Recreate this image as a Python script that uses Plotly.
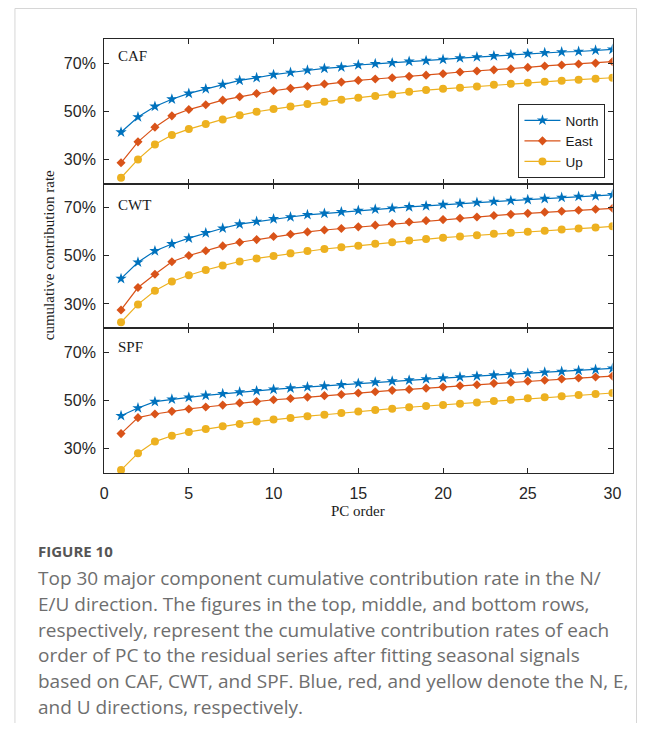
import plotly.graph_objects as go

OFF = 8  # page body margin of the browser
W, H = 654 - 2 * OFF, 733 - 2 * OFF - 2

pc_order = list(range(1, 31))
panels = ["CAF", "CWT", "SPF"]
series_names = ["North", "East", "Up"]

caf_north = [41.3, 47.6, 52.0, 55.0, 57.4, 59.3, 61.1, 62.8, 63.9, 65.2, 66.1, 67.0, 67.8, 68.3, 69.2,
             69.7, 70.1, 70.7, 71.0, 71.5, 72.1, 72.5, 73.0, 73.5, 73.9, 74.3, 74.6, 74.8, 75.3, 75.7]
caf_east = [28.6, 37.3, 43.4, 48.1, 50.7, 52.7, 54.6, 56.0, 57.4, 58.5, 59.5, 60.4, 61.3, 62.1, 62.8,
            63.4, 63.9, 64.5, 65.0, 65.6, 66.3, 66.7, 67.2, 67.6, 68.2, 68.8, 69.2, 69.6, 70.0, 70.6]
caf_up = [22.4, 30.0, 36.2, 40.1, 42.6, 44.7, 46.6, 48.3, 49.8, 50.9, 52.0, 53.0, 53.9, 54.8, 55.6,
          56.3, 57.0, 58.1, 58.8, 59.3, 59.8, 60.3, 61.0, 61.4, 61.8, 62.2, 62.7, 63.1, 63.5, 63.9]

cwt_north = [40.5, 47.3, 52.0, 54.9, 57.3, 59.5, 61.4, 63.1, 64.2, 65.3, 66.1, 67.0, 67.6, 68.2, 68.8,
             69.3, 69.7, 70.3, 70.7, 71.2, 71.7, 72.1, 72.5, 72.9, 73.3, 73.7, 74.2, 74.6, 74.8, 75.3]
cwt_east = [27.5, 36.8, 42.3, 47.5, 50.1, 52.1, 54.1, 55.6, 56.7, 58.0, 58.9, 59.9, 60.7, 61.3, 62.0,
            62.7, 63.4, 64.0, 64.6, 65.0, 65.6, 66.1, 66.7, 67.2, 67.6, 68.1, 68.5, 68.9, 69.3, 69.7]
cwt_up = [22.4, 29.8, 35.5, 39.3, 41.9, 44.1, 45.9, 47.6, 48.9, 49.9, 51.0, 52.0, 52.8, 53.5, 54.2,
          55.0, 55.6, 56.3, 57.0, 57.5, 58.0, 58.5, 59.1, 59.5, 60.0, 60.4, 60.9, 61.3, 61.7, 62.2]

spf_north = [43.7, 46.9, 49.5, 50.5, 51.3, 52.1, 52.8, 53.5, 54.0, 54.6, 55.1, 55.6, 56.0, 56.5, 57.1,
             57.6, 58.0, 58.4, 58.9, 59.3, 59.7, 60.1, 60.5, 60.9, 61.3, 61.7, 62.0, 62.4, 62.8, 63.3]
spf_east = [36.3, 42.9, 44.4, 45.5, 46.5, 47.3, 48.1, 49.0, 49.6, 50.3, 50.8, 51.4, 52.0, 52.5, 53.1,
            53.6, 54.2, 54.6, 55.1, 55.6, 56.1, 56.5, 57.1, 57.6, 58.0, 58.4, 58.9, 59.3, 59.7, 60.1]
spf_up = [21.2, 28.2, 33.0, 35.4, 37.0, 38.2, 39.3, 40.3, 41.3, 42.1, 42.8, 43.5, 44.1, 44.8, 45.4,
          46.1, 46.6, 47.2, 47.7, 48.1, 48.7, 49.2, 49.8, 50.3, 50.9, 51.3, 51.8, 52.3, 52.7, 53.1]

x_ticks = [0, 5, 10, 15, 20, 25, 30]
y_ticks = [30, 50, 70]
y_tick_labels = ["30%", "50%", "70%"]

caption_title = "FIGURE 10"
caption_lines = [
    "Top 30 major component cumulative contribution rate in the N/",
    "E/U direction. The figures in the top, middle, and bottom rows,",
    "respectively, represent the cumulative contribution rates of each",
    "order of PC to the residual series after fitting seasonal signals",
    "based on CAF, CWT, and SPF. Blue, red, and yellow denote the N, E,",
    "and U directions, respectively.",
]

data = [
    [caf_north, caf_east, caf_up],
    [cwt_north, cwt_east, cwt_up],
    [spf_north, spf_east, spf_up],
]

colors = ["#0072BD", "#D95319", "#EDB120"]
symbols = ["star", "diamond", "circle"]
msizes = [8.5, 7, 8]

AX = "#262626"
SANS = "Liberation Sans, Arial, sans-serif"
SERIF = "Liberation Serif, Times New Roman, serif"
CAPF = "Open Sans, sans-serif"


def px_x(p):
    return (p - OFF) / W


def px_y(p):
    return 1 - (p - OFF) / H


x_dom = [px_x(102), px_x(621)]
bounds = [39, 183.5, 328, 473]

fig = go.Figure()

for i, (pname, series) in enumerate(zip(panels, data)):
    sfx = "" if i == 0 else str(i + 1)
    for j, (sname, vals) in enumerate(zip(series_names, series)):
        fig.add_trace(go.Scatter(
            x=pc_order, y=vals, mode="lines+markers", name=sname,
            xaxis="x" + sfx, yaxis="y" + sfx,
            line=dict(color=colors[j], width=1.2),
            marker=dict(symbol=symbols[j], size=msizes[j], color=colors[j],
                        line=dict(width=0)),
            showlegend=(i == 0),
            legendrank=j,
        ))
    ydom = [px_y(bounds[i + 1]), px_y(bounds[i])]
    fig.layout["xaxis" + sfx] = dict(
        domain=x_dom, range=[0, 30], tickvals=x_ticks,
        showticklabels=(i == 2), ticks="inside", ticklen=5, tickwidth=1,
        tickcolor=AX, showline=True, linecolor=AX, linewidth=1, mirror="ticks",
        showgrid=False, zeroline=False, anchor="y" + sfx,
        tickfont=dict(family=SANS, size=16, color=AX), ticklabelstandoff=6,
    )
    fig.layout["yaxis" + sfx] = dict(
        domain=ydom, range=[20, 80], tickvals=y_ticks, ticktext=y_tick_labels,
        ticks="inside", ticklen=5, tickwidth=1,
        tickcolor=AX, showline=True, linecolor=AX, linewidth=1, mirror="ticks",
        showgrid=False, zeroline=False, anchor="x" + sfx,
        tickfont=dict(family=SANS, size=16, color=AX), ticklabelstandoff=4,
    )

annotations = []
label_y = [56, 205, 347]
for pname, ly in zip(panels, label_y):
    annotations.append(dict(
        x=px_x(114), y=px_y(ly), xref="paper", yref="paper", text=pname,
        showarrow=False, xanchor="left", yanchor="middle",
        font=dict(family=SERIF, size=15, color="#1a1a1a"),
    ))

annotations.append(dict(
    x=px_x(361), y=px_y(511), xref="paper", yref="paper", text="PC order",
    showarrow=False, xanchor="center", yanchor="middle",
    font=dict(family=SERIF, size=15, color="#1a1a1a"),
))
annotations.append(dict(
    x=px_x(46), y=px_y(255), xref="paper", yref="paper",
    text="cumulative contribution rate", textangle=-90,
    showarrow=False, xanchor="center", yanchor="middle",
    font=dict(family=SERIF, size=15, color="#1a1a1a"),
))

annotations.append(dict(
    x=px_x(33), y=px_y(551), xref="paper", yref="paper", text="<b>" + caption_title + "</b>",
    showarrow=False, xanchor="left", yanchor="middle",
    font=dict(family=CAPF, size=15, color="#555555"),
))
for k, line in enumerate(caption_lines):
    annotations.append(dict(
        x=px_x(33), y=px_y(578 + k * 25.8), xref="paper", yref="paper", text=line,
        showarrow=False, xanchor="left", yanchor="middle",
        font=dict(family=CAPF, size=19, color="#6e6e6e"),
    ))

frame = "#d6d6d6"
top = px_y(OFF + 0.5)
xr = px_x(645.5)
shapes = [
    dict(type="line", xref="paper", yref="paper", x0=px_x(11), x1=px_x(11),
         y0=0, y1=top, line=dict(color=frame, width=1)),
    dict(type="line", xref="paper", yref="paper", x0=px_x(11), x1=xr,
         y0=top, y1=top, line=dict(color=frame, width=1)),
    dict(type="line", xref="paper", yref="paper", x0=xr, x1=xr,
         y0=0, y1=top, line=dict(color=frame, width=1)),
]

fig.update_layout(
    width=W, height=H, autosize=False,
    margin=dict(l=0, r=0, t=0, b=0),
    paper_bgcolor="white", plot_bgcolor="white",
    annotations=annotations, shapes=shapes,
    legend=dict(
        x=px_x(525), y=px_y(104), xanchor="left", yanchor="top",
        bgcolor="white", bordercolor=AX, borderwidth=1,
        font=dict(family=SANS, size=13.5, color="#1a1a1a"),
        itemwidth=36, tracegroupgap=0,
    ),
)

fig.write_html("out.html")
